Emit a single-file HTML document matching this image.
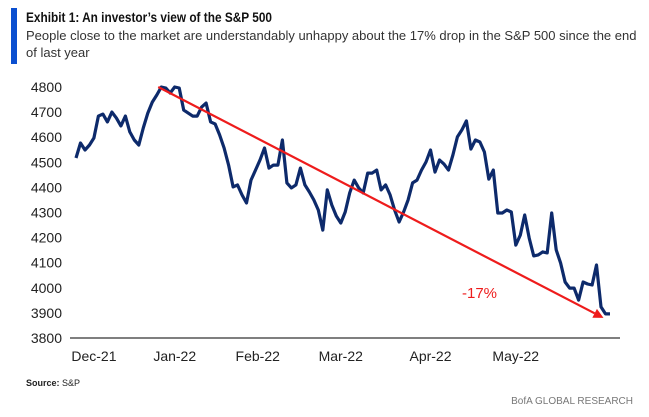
<!DOCTYPE html>
<html><head><meta charset="utf-8"><style>
body{margin:0;width:649px;height:417px;background:#fff;overflow:hidden;font-family:"Liberation Sans",sans-serif;}
svg{position:absolute;left:0;top:0}
</style></head><body>
<svg width="649" height="417">
<rect x="11" y="8" width="6" height="56" fill="#0b4fd0"/>
<text x="26" y="22" font-size="13.5" font-weight="bold" fill="#111" textLength="246" lengthAdjust="spacingAndGlyphs">Exhibit 1: An investor’s view of the S&amp;P 500</text>
<text x="26" y="40" font-size="13" fill="#333">People close to the market are understandably unhappy about the 17% drop in the S&amp;P 500 since the end</text>
<text x="26" y="57" font-size="13" fill="#333">of last year</text>
<g id="yticks"></g>
<g id="xticks"></g>
<line x1="70" y1="338" x2="620" y2="338" stroke="#555" stroke-width="1.5"/>
<polyline id="series" fill="none" stroke="#0d2a6b" stroke-width="3.2" stroke-linejoin="round"/>
<line id="trend" stroke="#ee1c1c" stroke-width="2.2"/>
<polygon id="arrowhead" fill="#ee1c1c"/>
<text x="462" y="298" font-size="15" fill="#ee1c1c">-17%</text>
<text x="26" y="386" font-size="9" fill="#222"><tspan font-weight="bold">Source:</tspan> S&amp;P</text>
<text x="633" y="404" font-size="10" fill="#777" text-anchor="end">BofA GLOBAL RESEARCH</text>
</svg>
<script>
const yTicks=[3800,3900,4000,4100,4200,4300,4400,4500,4600,4700,4800];
const xLabels=["Dec-21","Jan-22","Feb-22","Mar-22","Apr-22","May-22"];
const xLabelIdx=[4,22,40.5,59,79,98];
const values=[4517,4577,4549,4569,4597,4684,4692,4661,4700,4676,4645,4684,4621,4589,4569,4637,4696,4740,4768,4800,4796,4776,4800,4796,4708,4696,4684,4684,4720,4736,4661,4653,4609,4557,4489,4402,4410,4370,4338,4429,4469,4509,4557,4477,4489,4489,4589,4418,4398,4410,4477,4410,4382,4350,4310,4230,4390,4330,4286,4258,4302,4378,4429,4398,4378,4457,4457,4469,4390,4410,4370,4310,4262,4302,4350,4418,4429,4469,4501,4549,4461,4509,4493,4469,4529,4601,4629,4665,4553,4589,4581,4541,4433,4469,4298,4298,4310,4302,4170,4210,4290,4198,4127,4131,4143,4139,4298,4151,4099,4023,3999,3999,3951,4023,4015,4011,4091,3924,3896,3896];
const trendStartIdx=19, trendEndIdx=values.length-2, trendEndVal=3880;
const X0=76,X1=610,Y0=338,Y1=87,VMIN=3800,VMAX=4800;
const xs=i=>X0+i*(X1-X0)/(values.length-1);
const ys=v=>Y0-(v-VMIN)*(Y0-Y1)/(VMAX-VMIN);
const NS="http://www.w3.org/2000/svg";
const yg=document.getElementById('yticks');
yTicks.forEach(t=>{const e=document.createElementNS(NS,'text');
e.setAttribute('x',62);e.setAttribute('y',ys(t)+5);e.setAttribute('text-anchor','end');e.setAttribute('font-size','14');e.setAttribute('fill','#222');


e.textContent=t;yg.appendChild(e);});
const xg=document.getElementById('xticks');
xLabels.forEach((l,k)=>{const e=document.createElementNS(NS,'text');
e.setAttribute('x',xs(xLabelIdx[k]));e.setAttribute('y',361);e.setAttribute('text-anchor','middle');e.setAttribute('font-size','14');e.setAttribute('fill','#222');


e.textContent=l;xg.appendChild(e);});
document.getElementById('series').setAttribute('points',values.map((v,i)=>xs(i).toFixed(1)+','+ys(v).toFixed(1)).join(' '));
const ax=xs(trendStartIdx)-3,ay=ys(values[trendStartIdx]),bx=xs(trendEndIdx)-2,by=ys(trendEndVal);
const ang=Math.atan2(by-ay,bx-ax),L=10,W=5;
const tx=bx-L*Math.cos(ang),ty=by-L*Math.sin(ang);
const tr=document.getElementById('trend');
tr.setAttribute('x1',ax);tr.setAttribute('y1',ay);tr.setAttribute('x2',tx);tr.setAttribute('y2',ty);
document.getElementById('arrowhead').setAttribute('points',
`${bx},${by} ${tx+W*Math.sin(ang)},${ty-W*Math.cos(ang)} ${tx-W*Math.sin(ang)},${ty+W*Math.cos(ang)}`);
</script>
</body></html>
